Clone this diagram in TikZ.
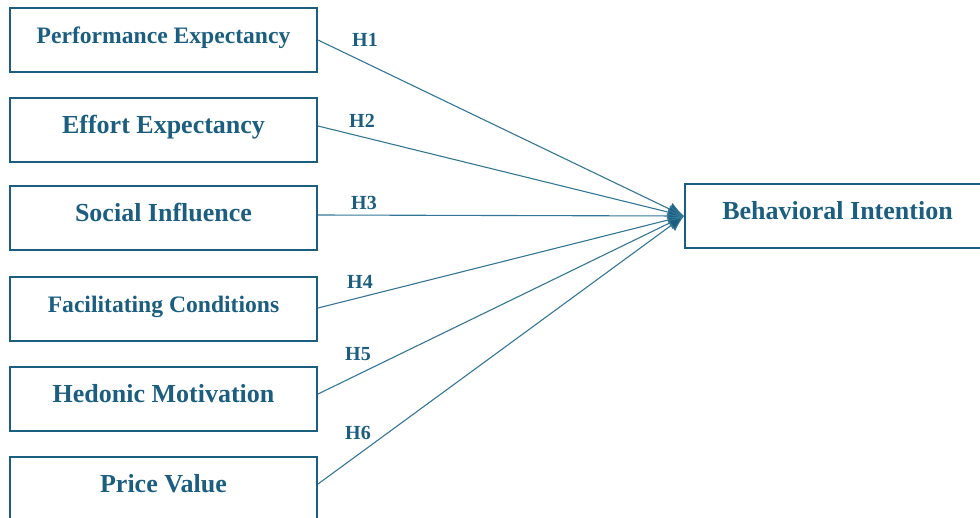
\documentclass[tikz,border=0pt]{standalone}
\usepackage{fontspec}
\setmainfont{Liberation Serif}
\usetikzlibrary{arrows.meta}

\begin{document}
\begin{tikzpicture}[x=1pt, y=-1pt]

    \definecolor{myblue}{RGB}{28, 94, 128}
    \definecolor{mylineblue}{RGB}{52, 118, 150}
    \tikzset{
        construct/.style={draw=myblue, line width=2pt, text=myblue, minimum width=307pt, minimum height=64pt, text height=10pt, text depth=3.5pt, inner sep=0pt, font=\bfseries\fontsize{26}{29}\selectfont},
        hyp/.style={text=myblue, inner sep=0pt, font=\bfseries\fontsize{20}{23}\selectfont},
        path/.style={draw=mylineblue, line width=1.1pt, -{Latex[length=16pt, width=14pt, fill=myblue]}}
    }

    \useasboundingbox (0,0) rectangle (980,517);

    % constructs
    \node [construct, font=\bfseries\fontsize{23.6}{27}\selectfont] (pe) at (163.5,40) {Performance Expectancy};
    \node [construct] (ee) at (163.5,130) {Effort Expectancy};
    \node [construct] (si) at (163.5,218) {Social Influence};
    \node [construct, font=\bfseries\fontsize{23.6}{27}\selectfont] (fc) at (163.5,309) {Facilitating Conditions};
    \node [construct] (hm) at (163.5,399) {Hedonic Motivation};
    \node [construct] (pv) at (163.5,489) {Price Value};

    \node [construct, minimum width=305pt] (bi) at (837.5,216) {Behavioral Intention};

    % hypotheses
    \draw [path] (pe.east) -- (bi.west);
    \draw [path] ([yshift=4pt]ee.east) -- (bi.west);
    \draw [path] ([yshift=3pt]si.east) -- (bi.west);
    \draw [path] ([yshift=1pt]fc.east) -- (bi.west);
    \draw [path] ([yshift=5pt]hm.east) -- (bi.west);
    \draw [path] ([yshift=5pt]pv.east) -- (bi.west);

    \node [hyp] (h1) at (365,40) {H1};
    \node [hyp] (h2) at (362,121) {H2};
    \node [hyp] (h3) at (364,203) {H3};
    \node [hyp] (h4) at (360,282) {H4};
    \node [hyp] (h5) at (358,354) {H5};
    \node [hyp] (h6) at (358,433) {H6};

\end{tikzpicture}
\end{document}
